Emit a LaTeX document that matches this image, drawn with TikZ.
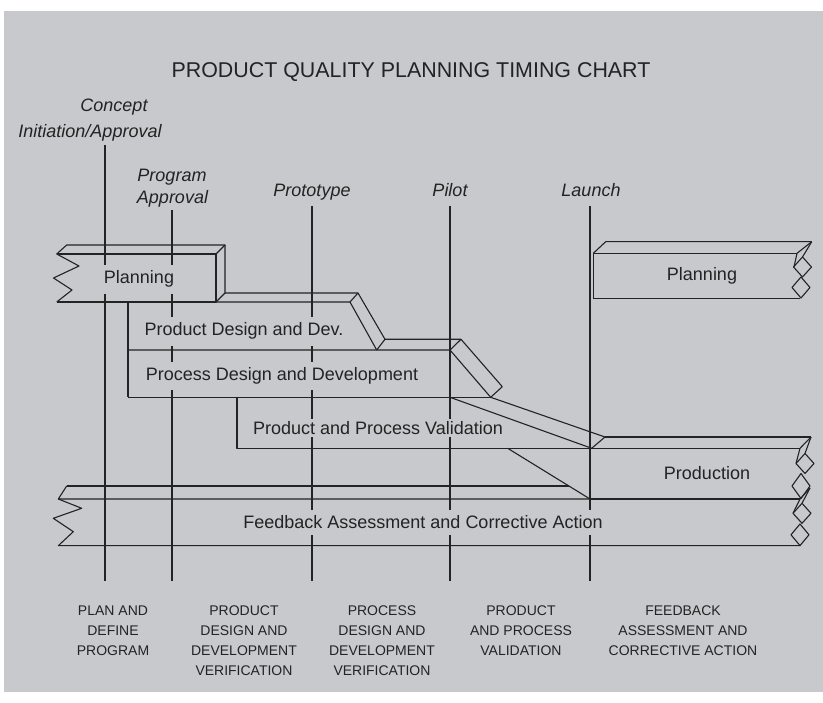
\documentclass[tikz,border=0pt]{standalone}
\usepackage{fontspec}
\setmainfont{Liberation Sans}
\usepackage{tikz}

\definecolor{panel}{RGB}{200,201,204}
\definecolor{ink}{RGB}{35,35,35}

\tikzset{
  bar/.style={draw=ink,line width=1.1pt,line join=round},
  barlabel/.style={fill=panel,inner xsep=3pt,inner ysep=6pt,anchor=base,text=ink,font=\fontsize{18}{20}\selectfont},
  gate/.style={anchor=base,inner sep=1pt,text=ink,font=\fontsize{18}{20}\selectfont\itshape},
  phase/.style={anchor=north,align=center,inner sep=0pt,text=ink,font=\fontsize{14}{20}\selectfont},
  heading/.style={anchor=base,text=ink,font=\fontsize{21.4}{24}\selectfont}
}

\begin{document}
\begin{tikzpicture}[x=1pt,y=-1pt]
	\useasboundingbox (0,0) rectangle (823,703);
	\fill[panel] (4,11) rectangle (823,692);
	\node[heading] (head) at (411,78) {PRODUCT QUALITY PLANNING TIMING CHART};

	% gate lines
	\foreach \x/\ytop in {105/145,172/210,312/206,450/206,590/206}{
		\draw[bar] (\x,\ytop) -- (\x,581);
	}

	% planning, left
	\draw[bar] (56.7,254) -- (216,254) -- (216,302) -- (56.7,302);
	\draw[bar] (56.7,254) -- (79,266) -- (53.5,278) -- (72,290) -- (56.7,302);
	\draw[bar] (56.7,254) -- (66.7,245) -- (225,245) -- (225,293) -- (216,302);
	\draw[bar] (225,245) -- (216,254);

	% product design
	\draw[bar] (216,302) -- (350,302) -- (376.7,350);
	\draw[bar] (128,302) -- (128,397.3);
	\draw[bar] (225,293) -- (358,293) -- (385,339.3) -- (376.7,350);
	\draw[bar] (350,302) -- (358,293);

	% process design
	\draw[bar] (128,350) -- (450,350) -- (490.7,397.3);
	\draw[bar] (385,339.3) -- (461,339.3) -- (502.3,386.7) -- (490.7,397.3);
	\draw[bar] (450,350) -- (461,339.3);
	\draw[bar] (128,397.3) -- (490.7,397.3);

	% validation
	\draw[bar] (237,397.3) -- (237,448.3) -- (591.7,448.3);
	\draw[bar] (450,397.3) -- (591.7,448.3);
	\draw[bar] (490.7,397.3) -- (605,437) -- (591.7,448.3);
	\draw[bar] (507.7,448.3) -- (590,499);

	% production
	\draw[bar] (605,437) -- (811,437);
	\draw[bar] (591.7,448.3) -- (800,448.3);
	\draw[bar] (590,499) -- (800,499);

	% feedback
	\draw[bar] (66.7,486) -- (568.6,486);
	\draw[bar] (66.7,486) -- (58.3,499) -- (590,499);
	\draw[bar] (58.3,499) -- (81.7,508.3) -- (53.3,518.3) -- (73.3,531.7) -- (58.3,545.7) -- (800,545.7);

	% planning, right
	\draw[bar] (593.3,298.3) -- (593.3,253.3) -- (797,253.3);
	\draw[bar] (593.3,253.3) -- (605.7,241.7) -- (811.7,241.7);
	\draw[bar] (593.3,298.3) -- (800,298.3);

	% torn ends on the right
	\draw[bar] (811.7,241.7) -- (797,253.3) -- (794,267);
	\draw[bar] (811.7,241.7) -- (802.5,257);
	\draw[bar] (811,437) -- (800,448.3) -- (796,463.5);
	\draw[bar] (811,437) -- (805,453.5);
	\draw[bar] (810,488) -- (800,499) -- (793,513.3);
	\draw[bar] (810,488) -- (802,503.3);
	\foreach \cx/\cy/\h in {802.5/267/10,801/287.5/10.5,805/463.5/10,801/486/12.5,802/513.3/10,800/534.8/10.8}{
		\draw[bar] (\cx,\cy-\h) -- (\cx+9,\cy) -- (\cx,\cy+\h) -- (\cx-9,\cy) -- cycle;
	}

	% bar labels
	\node[barlabel] (planL) at (139,284) {Planning};
	\node[barlabel] (pdd) at (244,336) {Product Design and Dev.};
	\node[barlabel] (prdd) at (282,380.7) {Process Design and Development};
	\node[barlabel,inner ysep=2.5pt,inner xsep=1pt] (ppv) at (378,434.3) {Product and Process Validation};
	\node[barlabel] (prod) at (707,480) {Production};
	\node[barlabel] (planR) at (702,281) {Planning};
	\node[barlabel] (fac) at (423,529) {Feedback Assessment and Corrective Action};

	% gates
	\node[gate] (concept) at (114,112) {Concept};
	\node[gate] (initapp) at (90,138) {Initiation/Approval};
	\node[gate] (program) at (172,182) {Program};
	\node[gate] (progapp) at (172.5,204) {Approval};
	\node[gate] (proto) at (312,197) {Prototype};
	\node[gate] (pilot) at (450,197) {Pilot};
	\node[gate] (launch) at (591,197) {Launch};

	% phases
	\node[phase] (ph1) at (113,606) {PLAN AND\\DEFINE\\PROGRAM};
	\node[phase] (ph2) at (244,606) {PRODUCT\\DESIGN AND\\DEVELOPMENT\\VERIFICATION};
	\node[phase] (ph3) at (382,606) {PROCESS\\DESIGN AND\\DEVELOPMENT\\VERIFICATION};
	\node[phase] (ph4) at (521,606) {PRODUCT\\AND PROCESS\\VALIDATION};
	\node[phase] (ph5) at (683,606) {FEEDBACK\\ASSESSMENT AND\\CORRECTIVE ACTION};
\end{tikzpicture}
\end{document}
